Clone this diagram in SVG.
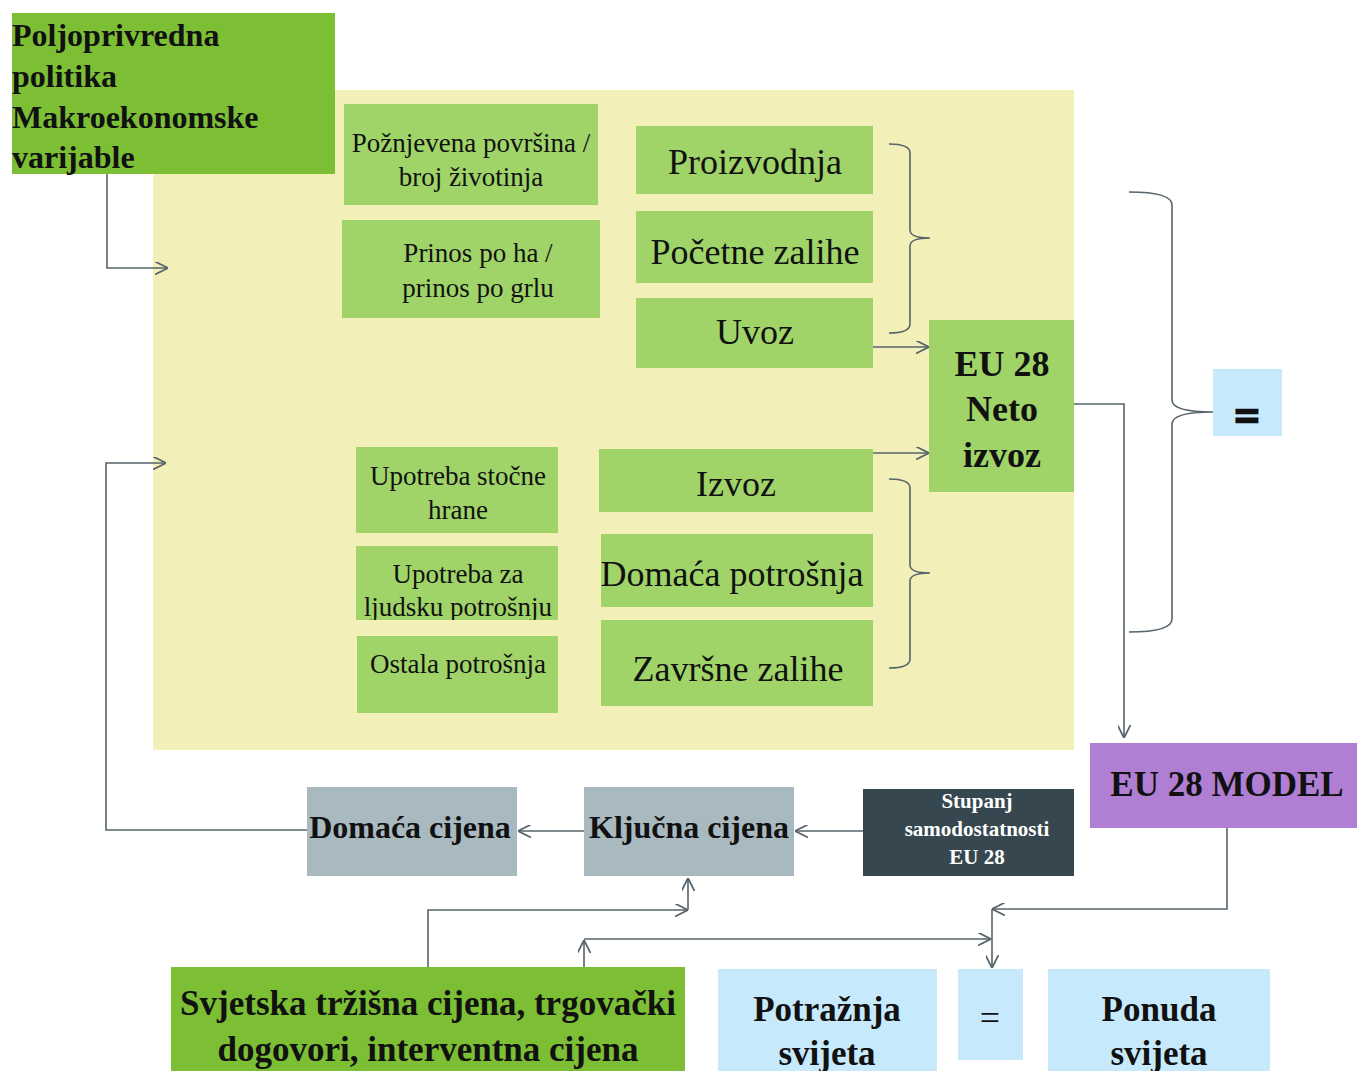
<svg xmlns="http://www.w3.org/2000/svg" width="1357" height="1071" viewBox="0 0 1357 1071">
<style>
  .t { font-family: "Liberation Serif", "Times New Roman", serif; fill: #111; }
  .b { font-weight: bold; }
  .c { text-anchor: middle; }
  .dg { fill: #7cbf35; }
  .lg { fill: #a0d468; }
  .lb { fill: #c6eafc; }
  .gr { fill: #a9b9c0; }
  .ln { fill: none; stroke: #56646b; stroke-width: 1.6; }
</style>
<defs>
  <marker id="ah" viewBox="0 0 12 12" refX="12" refY="6" markerWidth="13" markerHeight="13" markerUnits="userSpaceOnUse" orient="auto">
    <path d="M0,0 L12,6 L0,12" fill="none" stroke="#56646b" stroke-width="1.6"/>
  </marker>
  <clipPath id="clipLj"><rect x="356" y="546" width="202" height="74"/></clipPath>
</defs>

<rect id="bg" x="153" y="90" width="921" height="660" fill="#f2f0b8"/>

<g id="n-policy">
  <rect class="dg" x="12" y="13" width="323" height="161"/>
  <text class="t b" font-size="32" x="12" y="46">Poljoprivredna</text>
  <text class="t b" font-size="32" x="12" y="87">politika</text>
  <text class="t b" font-size="32" x="12" y="128">Makroekonomske</text>
  <text class="t b" font-size="32" x="12" y="168">varijable</text>
</g>

<g id="n-povrsina">
  <rect class="lg" x="344" y="104" width="254" height="101"/>
  <text class="t c" font-size="27" x="471" y="152">Požnjevena površina /</text>
  <text class="t c" font-size="27" x="471" y="186">broj životinja</text>
</g>
<g id="n-prinos">
  <rect class="lg" x="342" y="220" width="258" height="98"/>
  <text class="t c" font-size="27" x="478" y="262">Prinos po ha /</text>
  <text class="t c" font-size="27" x="478" y="297">prinos po grlu</text>
</g>
<g id="n-proizvodnja">
  <rect class="lg" x="636" y="126" width="237" height="68"/>
  <text class="t c" font-size="36" x="755" y="174">Proizvodnja</text>
</g>
<g id="n-pocetne">
  <rect class="lg" x="636" y="211" width="237" height="72"/>
  <text class="t c" font-size="36" x="755" y="264">Početne zalihe</text>
</g>
<g id="n-uvoz">
  <rect class="lg" x="636" y="298" width="237" height="70"/>
  <text class="t c" font-size="36" x="755" y="344">Uvoz</text>
</g>
<g id="n-neto">
  <rect class="lg" x="929" y="320" width="145" height="172"/>
  <text class="t b c" font-size="36" x="1002" y="376">EU 28</text>
  <text class="t b c" font-size="36" x="1002" y="421">Neto</text>
  <text class="t b c" font-size="36" x="1002" y="467">izvoz</text>
</g>
<g id="n-stocne">
  <rect class="lg" x="356" y="447" width="202" height="86"/>
  <text class="t c" font-size="27" x="458" y="485">Upotreba stočne</text>
  <text class="t c" font-size="27" x="458" y="519">hrane</text>
</g>
<g id="n-ljudsku">
  <rect class="lg" x="356" y="546" width="202" height="74"/>
  <g clip-path="url(#clipLj)">
    <text class="t c" font-size="27" x="458" y="583">Upotreba za</text>
    <text class="t c" font-size="27" x="458" y="616">ljudsku potrošnju</text>
  </g>
</g>
<g id="n-ostala">
  <rect class="lg" x="357" y="636" width="201" height="77"/>
  <text class="t c" font-size="27" x="458" y="673">Ostala potrošnja</text>
</g>
<g id="n-izvoz">
  <rect class="lg" x="599" y="449" width="274" height="63"/>
  <text class="t c" font-size="36" x="736" y="496">Izvoz</text>
</g>
<g id="n-domaca-potr">
  <rect class="lg" x="601" y="534" width="272" height="73"/>
  <text class="t c" font-size="36" x="732" y="586">Domaća potrošnja</text>
</g>
<g id="n-zavrsne">
  <rect class="lg" x="601" y="620" width="272" height="86"/>
  <text class="t c" font-size="36" x="738" y="681">Završne zalihe</text>
</g>

<g id="n-eq1">
  <rect class="lb" x="1213" y="369" width="69" height="67"/>
  <text class="t b c" font-size="44" x="1247" y="430" stroke="#111" stroke-width="2.5">=</text>
</g>

<g id="n-model">
  <rect x="1090" y="743" width="267" height="85" fill="#b07fd4"/>
  <text class="t b c" font-size="35" x="1227" y="796">EU 28 MODEL</text>
</g>

<g id="n-domaca-cijena">
  <rect class="gr" x="307" y="787" width="210" height="89"/>
  <text class="t b c" font-size="32" x="410" y="838">Domaća cijena</text>
</g>
<g id="n-kljucna">
  <rect class="gr" x="584" y="787" width="210" height="89"/>
  <text class="t b c" font-size="32" x="689" y="838">Ključna cijena</text>
</g>
<g id="n-stupanj">
  <rect x="863" y="789" width="211" height="87" fill="#37474f"/>
  <text class="t b c" font-size="21" x="977" y="808" style="fill:#fff">Stupanj</text>
  <text class="t b c" font-size="21" x="977" y="836" style="fill:#fff">samodostatnosti</text>
  <text class="t b c" font-size="21" x="977" y="864" style="fill:#fff">EU 28</text>
</g>

<g id="n-svjetska">
  <rect class="dg" x="171" y="967" width="514" height="104"/>
  <text class="t b c" font-size="35" x="428" y="1015">Svjetska tržišna cijena, trgovački</text>
  <text class="t b c" font-size="35" x="428" y="1061">dogovori, interventna cijena</text>
</g>
<g id="n-potraznja">
  <rect class="lb" x="718" y="969" width="219" height="102"/>
  <text class="t b c" font-size="35" x="827" y="1021">Potražnja</text>
  <text class="t b c" font-size="35" x="827" y="1065">svijeta</text>
</g>
<g id="n-eq2">
  <rect class="lb" x="958" y="969" width="65" height="91"/>
  <text class="t c" font-size="36" x="990" y="1030">=</text>
</g>
<g id="n-ponuda">
  <rect class="lb" x="1048" y="969" width="222" height="102"/>
  <text class="t b c" font-size="35" x="1159" y="1021">Ponuda</text>
  <text class="t b c" font-size="35" x="1159" y="1065">svijeta</text>
</g>

<g id="connectors">
  <path class="ln" d="M107,174 L107,268 L168,268" marker-end="url(#ah)"/>
  <path class="ln" d="M307,830 L106,830 L106,463 L166,463" marker-end="url(#ah)"/>
  <path class="ln" d="M873,347 L929,347" marker-end="url(#ah)"/>
  <path class="ln" d="M873,453 L929,453" marker-end="url(#ah)"/>
  <path class="ln" d="M1074,404 L1124,404 L1124,738" marker-end="url(#ah)"/>
  <path class="ln" d="M584,831 L518,831" marker-end="url(#ah)"/>
  <path class="ln" d="M863,831 L795,831" marker-end="url(#ah)"/>
  <path class="ln" d="M428,967 L428,910 L688,910" marker-end="url(#ah)"/>
  <path class="ln" d="M688,910 L688,878" marker-end="url(#ah)"/>
  <path class="ln" d="M584,967 L584,940" marker-end="url(#ah)"/>
  <path class="ln" d="M584,939 L991,939" marker-end="url(#ah)"/>
  <path class="ln" d="M1227,828 L1227,909 L992,909" marker-end="url(#ah)"/>
  <path class="ln" d="M992,909 L992,968" marker-end="url(#ah)"/>
  <path class="ln" d="M889,144 Q910,144 910,153 L910,230 Q910,238 930,238 Q910,238 910,246 L910,324 Q910,333 889,333"/>
  <path class="ln" d="M889,479 Q910,479 910,488 L910,565 Q910,573 930,573 Q910,573 910,581 L910,659 Q910,668 889,668"/>
  <path class="ln" d="M1129,192 Q1172,192 1172,205 L1172,400 Q1172,412 1213,412 Q1172,412 1172,424 L1172,619 Q1172,632 1129,632"/>
</g>
</svg>
